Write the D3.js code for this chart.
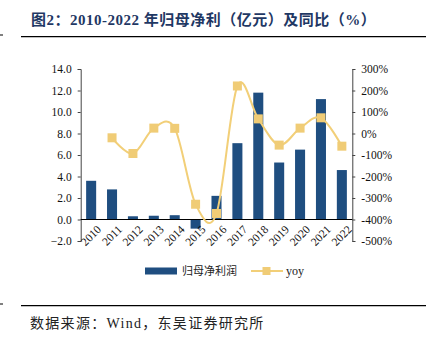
<!DOCTYPE html>
<html><head><meta charset="utf-8">
<script src="https://cdn.jsdelivr.net/npm/d3@7"></script>
<style>body{margin:0;background:#fff}svg{display:block}</style>
</head><body>
<svg id="c" width="426" height="344"></svg>
<script>
const years = ["2010","2011","2012","2013","2014","2015","2016","2017","2018","2019","2020","2021","2022"];
const profit = [3.6,2.8,0.3,0.35,0.4,-0.85,2.2,7.1,11.8,5.3,6.5,11.2,4.6];
const yoy = [null,-20,-93,25,24,-329,-372,221,68,-54,25,73,-59];
const leftTicks = [-2,0,2,4,6,8,10,12,14];
const rightTicks = [-500,-400,-300,-200,-100,0,100,200,300];

const svg = d3.select("#c");
const serif = "'Liberation Serif','Times New Roman',serif";
const cjk = "'Liberation Serif','Noto Sans CJK SC',serif";
const L = 80.7, R = 352.3, T = 69, B = 241;

svg.append("text").attr("x",31).attr("y",25).attr("fill","#1f3864")
  .attr("font-family",cjk).attr("font-weight","bold").attr("font-size",15).attr("letter-spacing",0.5)
  .text("图2：2010-2022 年归母净利（亿元）及同比（%）");
svg.append("line").attr("x1",21).attr("x2",426).attr("y1",36.7).attr("y2",36.7).attr("stroke","#000").attr("stroke-width",1.3);
svg.append("line").attr("x1",0).attr("x2",3).attr("y1",35).attr("y2",35).attr("stroke","#000").attr("stroke-width",1);
svg.append("line").attr("x1",21).attr("x2",426).attr("y1",305.7).attr("y2",305.7).attr("stroke","#000").attr("stroke-width",1.3);
svg.append("line").attr("x1",0).attr("x2",3).attr("y1",304).attr("y2",304).attr("stroke","#000").attr("stroke-width",1);
svg.append("text").attr("x",30).attr("y",327.5).attr("fill","#222")
  .attr("font-family",cjk).attr("font-size",14).attr("letter-spacing",1.3)
  .text("数据来源：Wind，东吴证券研究所");

const x = d3.scaleBand().domain(years).range([L,R]).paddingInner(0.52).paddingOuter(0.26);
const yL = d3.scaleLinear().domain([-2,14]).range([B,T]);
const yR = d3.scaleLinear().domain([-500,300]).range([B,T]);

svg.selectAll("rect.bar").data(years).enter().append("rect").attr("class","bar")
  .attr("x",d=>x(d)).attr("width",x.bandwidth())
  .attr("y",(d,i)=>yL(Math.max(0,profit[i])))
  .attr("height",(d,i)=>Math.abs(yL(profit[i])-yL(0)))
  .attr("fill","#1f4e80");

// axes
const gl = svg.append("g").attr("transform",`translate(${L},0)`)
  .call(d3.axisLeft(yL).tickValues(leftTicks).tickFormat(d3.format(".1f")).tickSize(3).tickPadding(6));
const gr = svg.append("g").attr("transform",`translate(${R},0)`)
  .call(d3.axisRight(yR).tickValues(rightTicks).tickFormat(d=>d+"%").tickSize(3).tickPadding(6));
[gl,gr].forEach(g=>{
  g.select(".domain").attr("stroke","#444").attr("stroke-width",1);
  g.selectAll(".tick line").attr("stroke","#444");
  g.selectAll("text").attr("font-family",serif).attr("font-size",11.5).attr("fill","#111");
});
const gx = svg.append("g").attr("transform",`translate(0,${yL(0)})`)
  .call(d3.axisBottom(x).tickSize(0).tickPadding(0));
gx.select(".domain").attr("stroke","#000").attr("stroke-width",1.2).attr("d",`M${L},0H${R}`);
gx.selectAll(".tick text").attr("font-family",serif).attr("font-size",11.5).attr("fill","#111")
  .attr("text-anchor","end").attr("y",0).attr("dy","0.7em")
  .attr("transform","translate(5,5) rotate(-45)");

// line
const pts = years.map((d,i)=>({d,v:yoy[i]})).filter(p=>p.v!==null);
const line = d3.line().x(p=>x(p.d)+x.bandwidth()/2).y(p=>yR(p.v)).curve(d3.curveCardinal.tension(0));
svg.append("path").datum(pts).attr("d",line).attr("fill","none").attr("stroke","#f2cf78").attr("stroke-width",2);
svg.selectAll("rect.mk").data(pts).enter().append("rect").attr("class","mk")
  .attr("x",p=>x(p.d)+x.bandwidth()/2-4.5).attr("y",p=>yR(p.v)-4.5)
  .attr("width",9).attr("height",9).attr("fill","#f0cc76");

// legend
svg.append("rect").attr("x",145).attr("y",267.5).attr("width",32).attr("height",7).attr("fill","#1f4e80");
svg.append("text").attr("x",182).attr("y",275).attr("font-family",cjk).attr("font-size",11).attr("fill","#222").text("归母净利润");
svg.append("line").attr("x1",251).attr("x2",283).attr("y1",271).attr("y2",271).attr("stroke","#f2cf78").attr("stroke-width",2);
svg.append("rect").attr("x",262.5).attr("y",267).attr("width",8).attr("height",8).attr("fill","#f0cc76");
svg.append("text").attr("x",286).attr("y",274.5).attr("font-family",serif).attr("font-size",12).attr("fill","#222").text("yoy");
</script>
</body></html>
